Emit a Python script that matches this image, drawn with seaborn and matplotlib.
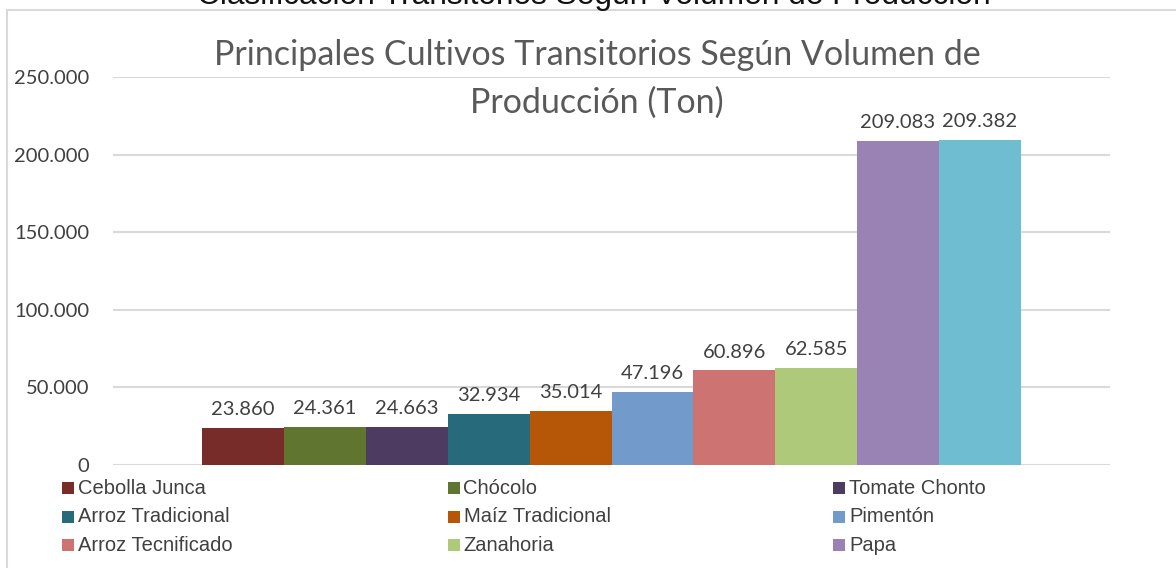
import numpy as np
import pandas as pd
import seaborn as sns
import matplotlib.pyplot as plt
from matplotlib.lines import Line2D
from matplotlib.patches import Rectangle

# data (toneladas)
cultivos = ["Cebolla Junca", "Chócolo", "Tomate Chonto", "Arroz Tradicional",
            "Maíz Tradicional", "Pimentón", "Arroz Tecnificado", "Zanahoria",
            "Papa", "Yuca"]
produccion = [23860, 24361, 24663, 32934, 35014, 47196, 60896, 62585,
              209083, 209382]
colores = ["#772C2A", "#5F7530", "#4D3B62", "#276A7C", "#B65708",
           "#729ACA", "#CD7371", "#AFC97A", "#9983B5", "#6FBDD1"]
y_ticks = [0, 50000, 100000, 150000, 200000, 250000]

W, H = 1176, 568


def fmt_miles(v):
    # thousands with a dot, as in the Spanish original
    return f"{int(v):,}".replace(",", ".")


def main():
    sns.set_theme(style="white")
    plt.rcParams["font.family"] = ["Lato", "DejaVu Sans"]

    df = pd.DataFrame({"cultivo": cultivos, "ton": produccion})

    fig = plt.figure(figsize=(W / 100, H / 100), dpi=100)
    ax = fig.add_axes([113 / W, 103 / H, (1110 - 113) / W, (465 - 77) / H])

    sns.barplot(data=df, x="cultivo", y="ton", hue="cultivo",
                palette=colores, width=1.0, dodge=False, legend=False,
                saturation=1, ax=ax, linewidth=0)

    for cont in ax.containers:
        ax.bar_label(cont, labels=[fmt_miles(v) for v in cont.datavalues],
                     padding=7, fontsize=14.5, color="#404040")

    ax.set_ylim(0, 250000)
    ax.set_xlim(-0.5 - 1.09, len(cultivos) - 0.5 + 1.09)
    ax.set_yticks(y_ticks)
    ax.set_yticklabels([fmt_miles(v) for v in y_ticks], fontsize=14.5,
                       color="#404040")
    ax.set_xticks([])
    ax.set_xlabel("")
    ax.set_ylabel("")
    ax.tick_params(axis="y", length=0, pad=17)
    for s in ax.spines.values():
        s.set_visible(False)
    ax.set_axisbelow(True)
    ax.grid(axis="y", color="#d9d9d9", linewidth=1.5)
    ax.grid(axis="x", visible=False)

    # chart title (two lines, gray)
    fig.text(597 / W, 1 - 55 / H, "Principales Cultivos Transitorios Según Volumen de",
             ha="center", va="center", fontsize=24.5, color="#595959")
    fig.text(597 / W, 1 - 103 / H, "Producción (Ton)",
             ha="center", va="center", fontsize=24.5, color="#595959")

    # heading above the frame, cut off at the top edge as in the source
    fig.text(594 / W, 1 - 4 / H,
             "Clasificación Transitorios Según Volumen de Producción",
             ha="center", va="baseline", fontsize=22.8, color="#111111",
             family=["Liberation Sans", "DejaVu Sans"])

    # chart frame
    fig.add_artist(Line2D([7 / W, 1], [1 - 9.5 / H, 1 - 9.5 / H],
                          color="#d9d9d9", linewidth=1.5))
    fig.add_artist(Line2D([7 / W, 7 / W], [0, 1 - 9.5 / H],
                          color="#d9d9d9", linewidth=1.5))

    # legend, row by row, 3 columns (only the first 9 entries are visible)
    for i, (nombre, col) in enumerate(zip(cultivos[:9], colores[:9])):
        cx = 62 + (i % 3) * 385.5
        cy = 488 + (i // 3) * 28.7
        fig.add_artist(Rectangle((cx / W, 1 - (cy + 6) / H), 12 / W, 12 / H,
                                 transform=fig.transFigure, color=col,
                                 linewidth=0))
        fig.text((cx + 16) / W, 1 - cy / H, nombre, ha="left", va="center",
                 fontsize=14.5, color="#404040",
                 family=["Liberation Sans Narrow", "Liberation Sans", "DejaVu Sans"])

    fig.savefig("out.png", dpi=100)


if __name__ == "__main__":
    main()
